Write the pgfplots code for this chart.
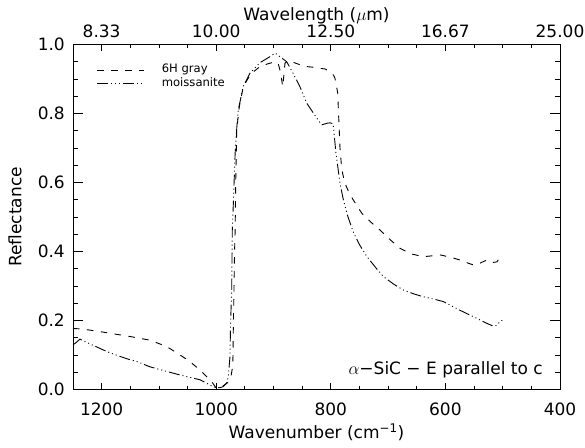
\documentclass[border=0pt]{standalone}
\usepackage{pgfplots}
\pgfplotsset{compat=1.18}
\usepackage{fontspec}
\setmainfont{DejaVu Sans}

\pgfplotsset{
 common/.style={
  scale only axis, width=487pt, height=345pt,
  at={(0pt,0pt)}, anchor=south west,
  xmin=400, xmax=1250, ymin=0, ymax=1, x dir=reverse,
  axis line style={line width=0.8pt},
  tick style={line width=0.8pt, black},
  tick align=inside,
 },
 dashsix/.style={black, line width=0.9pt, dash pattern=on 6.5pt off 7.5pt},
 moiss/.style={black, line width=0.9pt, dash pattern=on 11pt off 3pt on 1pt off 3pt on 1pt off 3pt on 1pt off 3pt},
}

\begin{document}
\begin{tikzpicture}[font=\fontsize{17}{20}\selectfont]
% axis with data, y ticks, x label
\begin{axis}[common,
  xtick=\empty,
  ytick={0,0.2,0.4,0.6,0.8,1},
  yticklabels={0.0,0.2,0.4,0.6,0.8,1.0},
  minor y tick num=3,
  ytick pos=both, yticklabel pos=left,
  major tick length=10pt, minor tick length=5pt,
  yticklabel style={inner xsep=0pt, xshift=-8pt},
  ylabel={Reflectance},
  ylabel style={at={(axis description cs:-0.119,0.5)}, anchor=center},
  xlabel={Wavenumber (cm\textsuperscript{−1})},
  xlabel style={at={(axis description cs:0.5,-0.123)}, anchor=center},
  legend style={draw=none, fill=none, at={(axis description cs:0,1)}, anchor=north west,
    xshift=23.7pt, yshift=-18.85pt, inner sep=0pt,
    font=\fontsize{11.6}{13.3}\selectfont,
    nodes={inner ysep=1pt, inner xsep=0pt, text height=8.3pt, text depth=3pt},
    row sep=0pt, /tikz/every odd column/.append style={column sep=17pt}},
  legend cell align=left,
  legend image code/.code={\draw[#1] (0pt,0pt) -- (47pt,0pt);},
]
\addplot[dashsix] coordinates {
(1250,0.177) (1232,0.175) (1200,0.167) (1174,0.160) (1145,0.152) (1116,0.143)
(1095,0.130) (1081,0.119) (1063,0.100) (1046,0.081) (1028,0.056) (1008,0.023)
(1000,0.004) (990,0.008) (980,0.020) (974,0.040) (971,0.070) (970,0.200)
(969,0.290) (968,0.400) (967,0.460) (966,0.600) (964.3,0.752) (959.7,0.820)
(952.7,0.878) (945,0.900) (938,0.917) (923.6,0.936) (910,0.944) (897.4,0.950)
(892,0.945) (888.7,0.926) (886,0.900) (884,0.878) (882,0.910) (880,0.946)
(874,0.953) (865,0.948) (855,0.942) (842,0.936) (830,0.934) (819,0.931)
(810,0.929) (801,0.921) (795,0.910) (792.7,0.902) (788,0.860) (786,0.780)
(784,0.700) (781,0.640) (776,0.600) (768,0.570) (761,0.550) (746,0.511)
(730,0.485) (714,0.462) (697,0.435) (679,0.409) (660,0.393) (638,0.385)
(620,0.388) (609,0.390) (590,0.383) (574,0.375) (560,0.366) (551,0.361)
(540,0.366) (528,0.375) (518,0.368) (510,0.370) (505,0.383) (500,0.377)
};
\addlegendentry{6H gray}
\addplot[moiss] coordinates {
(1250,0.130) (1246,0.134) (1238,0.146) (1220,0.132) (1191,0.110) (1170,0.097)
(1150,0.086) (1140,0.082) (1116,0.066) (1090,0.054) (1063,0.042) (1028,0.028)
(1005,0.008) (1000,0.006) (995,0.005) (988,0.008) (982,0.018) (979,0.037)
(976,0.095) (975,0.190) (973,0.290) (972,0.460) (971,0.500) (967,0.685)
(964,0.762) (961.5,0.810) (953,0.878) (941,0.917) (924,0.947) (906,0.965)
(897,0.975) (889,0.965) (877,0.950) (866,0.917) (854,0.878) (842,0.830)
(830,0.800) (816,0.767) (806,0.772) (801,0.773) (796,0.770) (791,0.685)
(784,0.598) (778,0.549) (770,0.500) (760,0.453) (750,0.420) (737,0.385)
(720,0.350) (708,0.327) (690,0.305) (673,0.288) (655,0.277) (639,0.269)
(620,0.262) (604,0.255) (590,0.243) (575,0.230) (560,0.218) (551,0.211)
(540,0.202) (528,0.192) (517,0.184) (510,0.186) (505,0.197) (500,0.201)
};
\addlegendentry{moissanite}
\node[anchor=east, inner sep=0pt] at (rel axis cs:0.965,0.057) {$\alpha$−SiC − E parallel to c};
\end{axis}
% bottom x ticks and labels
\begin{axis}[common,
  ytick=\empty,
  xtick={400,600,800,1000,1200},
  xticklabels={400,600,800,1000,1200},
  minor x tick num=3,
  xtick pos=both, xticklabel pos=lower,
  major tick length=7pt, minor tick length=3.5pt,
  xticklabel style={anchor=center, yshift=-19.5pt},
]
\end{axis}
% top wavelength labels
\begin{axis}[common,
  ytick=\empty,
  xtick={400,600,800,1000,1200},
  xticklabels={25.00,16.67,12.50,10.00,8.33},
  minor x tick num=3,
  xtick pos=both, xticklabel pos=upper,
  major tick length=7pt, minor tick length=3.5pt,
  xticklabel style={anchor=center, yshift=13.5pt},
  title={Wavelength ($\mu$m)},
  title style={at={(axis description cs:0.5,1.087)}, anchor=center, yshift=-7pt},
]
\end{axis}
\pgfresetboundingbox
\path[use as bounding box] (-73pt,-57.5pt) rectangle (512pt,389.5pt);
\end{tikzpicture}
\end{document}
